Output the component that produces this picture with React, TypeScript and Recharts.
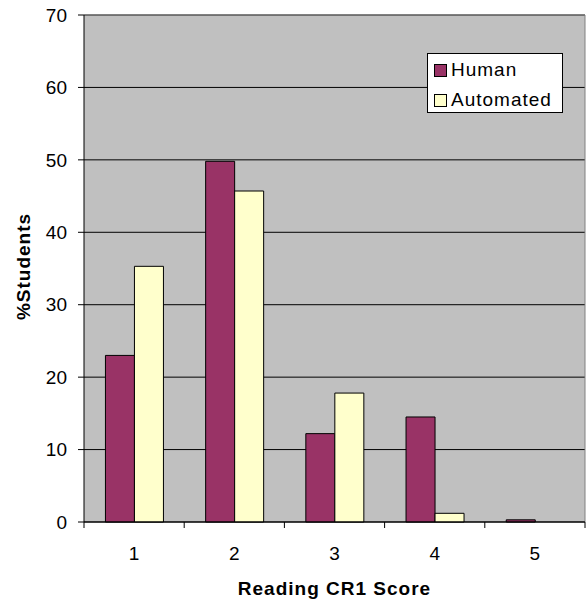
import {
  BarChart, Bar, XAxis, YAxis, CartesianGrid, Legend, ReferenceLine, Label,
} from 'recharts';

// Reading CR1 score distribution, % of students
const categories = ['1', '2', '3', '4', '5'];
const human = [23.0, 49.8, 12.2, 14.5, 0.3];
const automated = [35.3, 45.7, 17.8, 1.2, 0];
const yTicks = [0, 10, 20, 30, 40, 50, 60, 70];

const HUMAN_FILL = '#993366';
const AUTO_FILL = '#FFFFCC';
const FONT = "'Liberation Sans', Arial, sans-serif";

const chartData = categories.map((c, i) => ({
  score: c,
  human: human[i],
  automated: automated[i],
}));

// label at the band centre, tick marks on the band edges (Excel style)
function ScoreTick(props: any) {
  const { x, y, payload, index, visibleTicksCount } = props;
  const half = payload.offset ?? 0;
  const last = index === visibleTicksCount - 1;
  return (
    <g>
      <line x1={x - half} x2={x - half} y1={y} y2={y + 6} stroke="#000" />
      {last && <line x1={x + half} x2={x + half} y1={y} y2={y + 6} stroke="#000" />}
      <text x={x} y={y + 31} textAnchor="middle" dominantBaseline="central" fontSize={19} fill="#000">
        {payload.value}
      </text>
    </g>
  );
}

function LegendBox() {
  const items = [
    { name: 'Human', fill: HUMAN_FILL },
    { name: 'Automated', fill: AUTO_FILL },
  ];
  return (
    <div
      style={{
        background: '#fff', border: '1px solid #000', boxSizing: 'border-box',
        width: 136, height: 60, padding: '1px 6px 0', fontSize: 19, letterSpacing: 1,
        fontFamily: FONT, color: '#000',
      }}
    >
      {items.map((it) => (
        <div key={it.name} style={{ display: 'flex', alignItems: 'center', height: 30 }}>
          <span
            style={{
              display: 'inline-block', width: 13, height: 13, boxSizing: 'border-box',
              border: '1px solid #000', background: it.fill, marginRight: 4,
            }}
          />
          <span>{it.name}</span>
        </div>
      ))}
    </div>
  );
}

export default function App() {
  return (
    <div style={{ position: 'absolute', left: 0, top: 0, fontFamily: FONT }}>
      <BarChart
        width={586}
        height={607}
        data={chartData}
        margin={{ top: 15, right: 1, left: 0, bottom: 0 }}
        barCategoryGap="21.4%"
        barGap={0}
      >
        <CartesianGrid vertical={false} fill="#C0C0C0" fillOpacity={1} stroke="#000" />
        <XAxis
          dataKey="score"
          interval={0}
          height={85}
          tickSize={0}
          tickMargin={0}
          tickLine={false}
          tick={<ScoreTick />}
          axisLine={{ stroke: '#000' }}
        >
          <Label
            value="Reading CR1 Score"
            position="insideBottom"
            offset={12}
            style={{ fontWeight: 'bold', fontSize: 19, letterSpacing: 1, fill: '#000' }}
          />
        </XAxis>
        <YAxis
          width={84}
          domain={[0, 70]}
          ticks={yTicks}
          interval={0}
          tickSize={6}
          tickMargin={11}
          tick={{ fill: '#000', fontSize: 19 }}
          tickLine={{ stroke: '#000' }}
          axisLine={{ stroke: '#000' }}
        >
          <Label
            content={({ viewBox }: any) => {
              const cx = viewBox.x + 23;
              const cy = viewBox.y + viewBox.height / 2 - 2;
              return (
                <text
                  x={cx}
                  y={cy}
                  transform={`rotate(-90, ${cx}, ${cy})`}
                  textAnchor="middle"
                  dominantBaseline="central"
                  fontSize={19}
                  fontWeight="bold"
                  letterSpacing={1}
                  fill="#000"
                >
                  %Students
                </text>
              );
            }}
          />
        </YAxis>
        <ReferenceLine y={70} stroke="#808080" />
        <ReferenceLine x="5" position="end" stroke="#808080" />
        <Legend
          layout="vertical"
          align="center"
          verticalAlign="middle"
          content={<LegendBox />}
          wrapperStyle={{ position: 'absolute', left: 427, top: 53, width: 136, height: 60 }}
        />
        <Bar dataKey="human" name="Human" fill={HUMAN_FILL} stroke="#000" strokeWidth={1} isAnimationActive={false} />
        <Bar dataKey="automated" name="Automated" fill={AUTO_FILL} stroke="#000" strokeWidth={1} isAnimationActive={false} />
      </BarChart>
    </div>
  );
}
